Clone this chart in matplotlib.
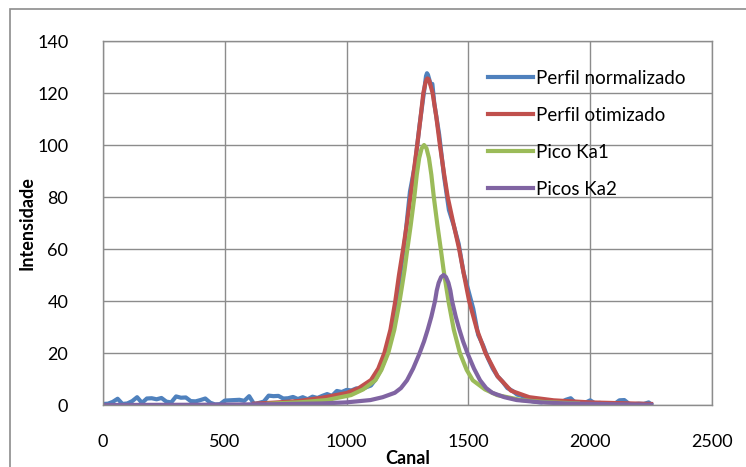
import matplotlib
matplotlib.use("Agg")
import matplotlib.pyplot as plt
from matplotlib.patches import Rectangle

# Perfil normalizado (measured), read every 20 channels
canal_medido = sorted(set(list(range(0, 2260, 20)) + [2250]))
intensidade_medida = [
    0.4, 0.5, 1.2, 2.4, 0.4, 0.6, 1.5, 3.0, 0.8, 2.5,
    2.6, 2.2, 2.7, 1.3, 1.0, 3.3, 2.8, 2.9, 1.5, 1.4,
    1.9, 2.5, 0.9, 0.2, 0.3, 1.7, 1.8, 1.9, 2.0, 1.6,
    3.4, 0.4, 0.8, 1.3, 3.6, 3.4, 3.5, 2.5, 2.6, 3.1,
    2.3, 3.0, 2.2, 3.2, 2.7, 3.5, 4.2, 3.5, 5.4, 5.0,
    5.8, 5.6, 6.4, 6.0, 6.8, 7.5, 10.0, 13.5, 18.0, 26.0,
    36.0, 50.0, 64.0, 82.0, 92.0, 108.0, 122.0, 125.0, 116.0, 104.0,
    88.0, 75.0, 69.0, 62.0, 51.0, 44.0, 37.0, 27.0, 23.0, 18.0,
    14.0, 11.0, 9.0, 6.5, 5.5, 4.0, 3.5, 2.2, 1.5, 1.2,
    1.0, 1.8, 1.7, 0.6, 1.0, 2.0, 2.6, 0.8, 0.6, 0.9,
    1.8, 0.6, 0.8, 0.4, 0.7, 0.4, 1.8, 1.9, 0.4, 0.3,
    0.5, 0.4, 1.0, 0.3,
]
# extra points read near the maximum
canal_pico = [1326, 1330, 1334, 1346, 1352]
intensidade_pico = [126.5, 127.6, 127.0, 123.0, 123.5]

# Perfil otimizado (fit)
canal_otimizado = [620, 700, 800, 900, 1000, 1050, 1100, 1130, 1155, 1180,
                   1200, 1215, 1232, 1248, 1262, 1276, 1290, 1303, 1315, 1324,
                   1328, 1332, 1336, 1340, 1353, 1368, 1383, 1400, 1415, 1438,
                   1462, 1482, 1503, 1535, 1570, 1620, 1675, 1750, 1850, 2000,
                   2250]
intensidade_otimizada = [0.5, 0.9, 1.5, 2.8, 4.6, 6.5, 9.6, 14.0, 20.0, 29.0,
                         40.0, 50.0, 60.0, 70.0, 80.0, 90.0, 100.0, 110.0, 120.0, 124.0,
                         125.2, 125.6, 125.3, 124.5, 120.0, 111.0, 100.0, 89.0, 80.0, 70.0,
                         60.0, 50.0, 40.0, 29.0, 20.0, 11.0, 5.5, 3.0, 1.8, 1.0,
                         0.4]

# Pico Ka1
canal_ka1 = [680, 818, 918, 1018, 1068, 1118, 1143, 1171, 1196, 1216,
             1228, 1238, 1248, 1263, 1278, 1288, 1298, 1308, 1318, 1328,
             1338, 1348, 1358, 1373, 1388, 1398, 1408, 1420, 1440, 1465,
             1493, 1518, 1568, 1618, 1718, 1818, 1950]
intensidade_ka1 = [0.5, 1.1, 1.9, 3.8, 6.0, 9.5, 13.5, 20.0, 29.0, 39.0,
                   46.0, 52.0, 59.0, 69.0, 80.0, 88.5, 95.0, 98.7, 100.0, 98.7,
                   95.0, 88.5, 80.0, 69.0, 59.0, 52.0, 46.0, 39.0, 29.0, 20.0,
                   13.5, 9.5, 6.0, 3.8, 1.9, 1.1, 0.6]

# Picos Ka2
canal_ka2 = [0, 398, 698, 898, 998, 1098, 1148, 1198, 1223, 1248,
             1273, 1298, 1318, 1333, 1348, 1363, 1370, 1378, 1388, 1398,
             1408, 1418, 1426, 1433, 1448, 1463, 1478, 1498, 1523, 1548,
             1573, 1598, 1648, 1698, 1798, 1898, 2098, 2250]
intensidade_ka2 = [0.0, 0.1, 0.3, 0.6, 1.0, 1.9, 3.0, 4.7, 6.5, 9.5,
                   14.0, 19.5, 24.5, 29.0, 34.0, 40.0, 44.0, 47.0, 49.2, 50.0,
                   49.2, 47.0, 44.0, 40.0, 34.0, 29.0, 24.5, 19.5, 14.0, 9.5,
                   6.5, 4.7, 3.0, 1.9, 1.0, 0.6, 0.3, 0.1]

legenda = ["Perfil normalizado", "Perfil otimizado", "Pico Ka1", "Picos Ka2"]
cores = ["#4F81BD", "#C0504D", "#9BBB59", "#8064A2"]

x_ticks = [0, 500, 1000, 1500, 2000, 2500]
y_ticks = [0, 20, 40, 60, 80, 100, 120, 140]

plt.rcParams['font.family'] = ['Lato', 'DejaVu Sans']

fig = plt.figure(figsize=(7.46, 4.67), dpi=100)
fig.patches.append(Rectangle((10 / 746, -0.05), 1.0, 1.05 - 9 / 467,
                             transform=fig.transFigure, fill=False,
                             edgecolor="#8c8c8c", linewidth=1.2))
ax = fig.add_axes([103 / 746, 1 - 405 / 467, 609 / 746, 364 / 467])

# merge the extra peak readings into the measured series
pontos = sorted(zip(canal_medido + canal_pico, intensidade_medida + intensidade_pico))
cx = [p[0] for p in pontos]
cy = [p[1] for p in pontos]

lw = 3.0
ax.plot(cx, cy, color=cores[0], lw=lw, label=legenda[0])
ax.plot(canal_otimizado, intensidade_otimizada, color=cores[1], lw=lw, label=legenda[1])
ax.plot(canal_ka1, intensidade_ka1, color=cores[2], lw=lw, label=legenda[2])
ax.plot(canal_ka2, intensidade_ka2, color=cores[3], lw=lw, label=legenda[3])

ax.set_xlim(0, 2500)
ax.set_ylim(0, 140)
ax.set_xticks(x_ticks)
ax.set_yticks(y_ticks)
ax.tick_params(axis="y", length=0, labelsize=13, pad=25)
ax.tick_params(axis="x", length=0, labelsize=13, pad=21)
ax.grid(True, color="#8c8c8c", linewidth=1.0)
ax.set_axisbelow(True)
for s in ax.spines.values():
    s.set_color("#8c8c8c")
    s.set_linewidth(1.0)

ax.set_xlabel("Canal", fontsize=13, fontweight="bold", labelpad=0)
ax.set_ylabel("Intensidade", fontsize=13, fontweight="bold", labelpad=1)

ax.legend(loc="upper left", bbox_to_anchor=(0.604, 0.967), frameon=False,
          fontsize=13.5, handlelength=2.4, handletextpad=0.2, labelspacing=1.06)

fig.savefig("out.png", dpi=100)
